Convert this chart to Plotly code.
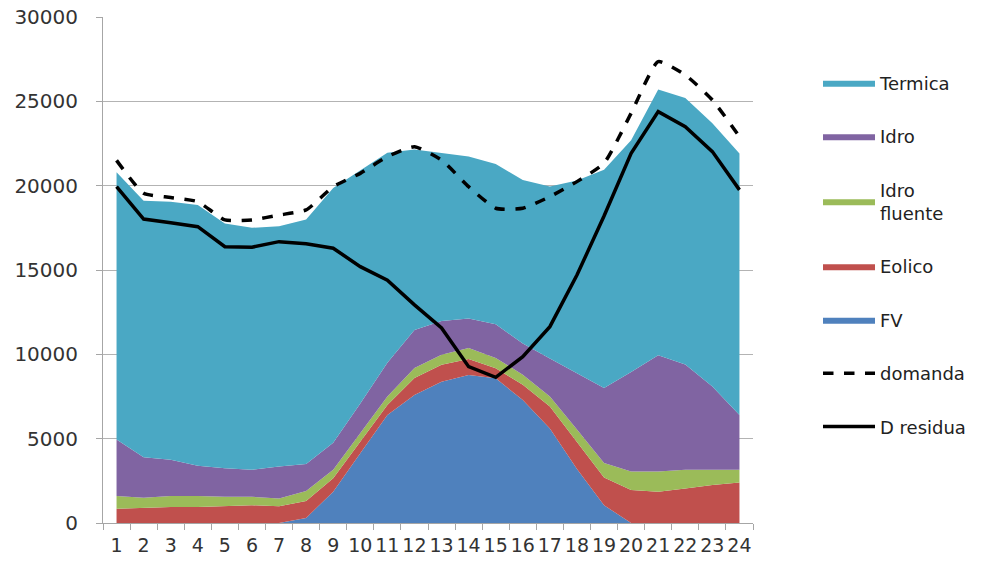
import plotly.graph_objects as go

hours = [str(h) for h in range(1, 25)]

fv = [0, 0, 0, 0, 0, 0, 0, 300, 1860, 4130, 6400, 7590, 8380, 8780, 8580, 7290, 5600, 3200, 1050, 0, 0, 0, 0, 0]
eolico = [850, 900, 950, 950, 1000, 1050, 1000, 1000, 800, 700, 600, 1000, 1000, 950, 600, 900, 1300, 1600, 1650, 1950, 1850, 2050, 2250, 2400]
idro_fluente = [750, 600, 650, 650, 550, 500, 450, 600, 500, 500, 500, 600, 600, 650, 600, 600, 600, 750, 850, 1100, 1200, 1100, 900, 750]
idro = [3350, 2400, 2150, 1800, 1700, 1600, 1900, 1600, 1600, 1750, 2000, 2250, 2000, 1750, 2000, 1850, 2250, 3300, 4450, 5900, 6900, 6250, 4950, 3250]
termica = [15850, 15200, 15300, 15450, 14500, 14350, 14250, 14500, 15100, 13850, 12450, 10700, 9950, 9600, 9500, 9700, 10200, 11450, 12950, 13750, 15750, 15800, 15600, 15500]
domanda = [21500, 19550, 19300, 19050, 17970, 17970, 18260, 18560, 19940, 20730, 21720, 22310, 21520, 19940, 18660, 18660, 19350, 20240, 21330, 24290, 27350, 26560, 25080, 22910]
d_residua = [19940, 18020, 17800, 17570, 16380, 16350, 16680, 16550, 16290, 15200, 14400, 12930, 11560, 9270, 8640, 9860, 11640, 14700, 18200, 21920, 24390, 23500, 22020, 19750]

y_ticks = [0, 5000, 10000, 15000, 20000, 25000, 30000]
y_tick_labels = ["0", "5000", "10000", "15000", "20000", "25000", "30000"]

areas = [
    ("FV", fv, "#4f81bd", 5),
    ("Eolico", eolico, "#c0504d", 4),
    ("Idro<br>fluente", idro_fluente, "#9bbb59", 3),
    ("Idro", idro, "#8064a2", 2),
    ("Termica", termica, "#4aa8c4", 1),
]

fig = go.Figure()
for name, vals, color, rank in areas:
    fig.add_trace(go.Scatter(
        x=hours, y=vals, name=name, mode="lines", stackgroup="one",
        line=dict(width=0, color=color), fillcolor=color,
        legendrank=rank, legendgroup=name,
    ))

fig.add_trace(go.Scatter(
    x=hours, y=domanda, name="domanda", mode="lines",
    line=dict(color="black", width=3.5, dash="dash", shape="spline", smoothing=0.5),
    legendrank=6, legendgroup="domanda",
))
fig.add_trace(go.Scatter(
    x=hours, y=d_residua, name="D residua", mode="lines",
    line=dict(color="black", width=3.5),
    legendrank=7, legendgroup="residua",
))

fig.update_layout(
    width=983, height=565,
    margin=dict(l=103, r=226, t=17, b=42),
    paper_bgcolor="white", plot_bgcolor="white",
    font=dict(family="DejaVu Sans", size=19, color="#333333"),
    legend=dict(
        x=1.1, y=0.906, xanchor="left", yanchor="top",
        font=dict(size=18, color="#222222"),
        tracegroupgap=27, itemwidth=52,
        bgcolor="rgba(0,0,0,0)",
    ),
    showlegend=True,
)
fig.update_xaxes(
    type="category", range=[-0.5, 23.5], automargin=False,
    showline=True, linecolor="#a6a6a6", linewidth=1,
    ticks="outside", tickson="boundaries", ticklen=6, tickcolor="#a6a6a6",
    ticklabelstandoff=5,
    showgrid=False, tickangle=0, tickfont=dict(size=19, color="#333333"),
)
fig.update_yaxes(
    range=[0, 30000], tickvals=y_ticks, ticktext=y_tick_labels, automargin=False,
    showline=True, linecolor="#a6a6a6", linewidth=1,
    ticks="outside", ticklen=6, tickcolor="#a6a6a6", ticklabelstandoff=14,
    showgrid=True, gridcolor="#b3b3b3", gridwidth=1,
    zeroline=False, tickfont=dict(size=20, color="#333333"),
)

fig.write_html("out.html")
